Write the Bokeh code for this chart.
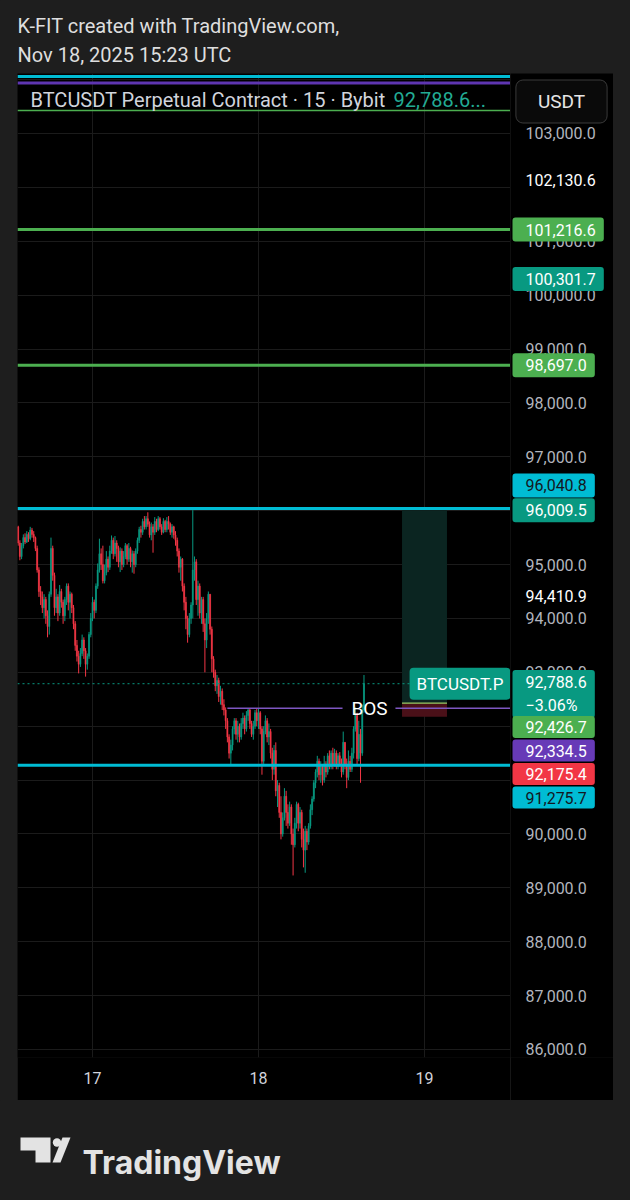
import datetime as dt
from bokeh.plotting import figure
from bokeh.models import (Range1d, FixedTicker, DatetimeTickFormatter,
                          Label, ColumnDataSource, Span, Spacer)
from bokeh.layouts import column, row
from bokeh.embed import file_html
from bokeh.resources import INLINE
from bokeh.core.properties import value

# ---------------- data (BTCUSDT.P, 15 min bars, Bybit) ----------------
first_bar_time = dt.datetime(2025, 11, 16, 13, 15)
bar_minutes = 15
first_open = 95700.0

closes = [
    95400, 95150, 95350, 95500, 95420, 95560, 95480, 95640, 95560, 95500,
    95300, 94900, 94500, 94400, 94200, 94350, 94050, 93850, 94450, 95300,
    94800, 94200, 94400, 94100, 94500, 94300, 94050, 94350, 94600, 94300,
    94450, 94200, 93900, 93500, 93300, 93150, 93350, 93600, 93400, 93150,
    93300, 93700, 94000, 94300, 94150, 94600, 94900, 95200, 95000, 94700,
    94850, 95100, 94950, 95250, 95450, 95200, 95400, 95300, 95050, 95250,
    95000, 95150, 95350, 95100, 95300, 95050, 95200, 95000, 95250, 95450,
    95650, 95600, 95800, 95700, 95850, 95750, 95550, 95700, 95600, 95800,
    95650, 95850, 95700, 95600, 95800, 95650, 95800, 95750, 95600, 95700,
    95550, 95450, 95250, 94950, 95100, 94600, 94300, 94000, 93700, 94000,
    94250, 94900, 95050, 94350, 94600, 94100, 94350, 93900, 93600, 94000,
    94450, 93800, 93250, 93000, 92750, 92850, 92550, 92650, 92400, 92300,
    92100, 91800, 91500, 91650, 91950, 92100, 91850, 92000, 91800, 92050,
    92150, 91950, 92200, 92300, 92050, 91850, 92000, 92250, 92100, 92250,
    91950, 91350, 91900, 92100, 91800, 91900, 91500, 91200, 91550, 90800,
    90900, 90400, 90000, 90300, 90700, 90400, 90200, 90500, 90000, 89800,
    90200, 90550, 90200, 90400, 89900, 89700, 90050, 89850, 90150, 90450,
    90650, 90950, 91150, 91350, 91100, 91250, 91000, 91300, 91150, 91450,
    91250, 91500, 91300, 91500, 91250, 91450, 91300, 91150, 91700, 91300,
    91050, 91350, 91200, 91500, 91950, 92200, 91400, 91850, 91500, 92300,
    92788.6,
]
highs = [
    95720, 95450, 95400, 95560, 95580, 95620, 95600, 95700, 95680, 95620,
    95520, 95350, 94950, 94600, 94500, 94450, 94400, 94150, 94500, 95500,
    95350, 94850, 94550, 94450, 94620, 94550, 94350, 94400, 94650, 94650,
    94500, 94480, 94250, 93950, 93600, 93400, 93450, 93700, 93650, 93450,
    93350, 93750, 94100, 94400, 94350, 94650, 95020, 95480, 95300, 95350,
    95000, 95250, 95150, 95350, 95540, 95500, 95530, 95450, 95350, 95320,
    95300, 95250, 95400, 95380, 95400, 95330, 95260, 95250, 95300, 95500,
    95700, 95720, 95850, 95900, 95900, 95970, 95800, 95780, 95750, 95880,
    95850, 95900, 95880, 95750, 95860, 95830, 95880, 95900, 95780, 95750,
    95720, 95620, 95500, 95300, 95150, 95120, 94650, 94400, 94050, 94100,
    94300, 96010, 95150, 95100, 94700, 94650, 94400, 94400, 94000, 94100,
    94500, 94450, 93850, 93300, 93050, 92950, 92900, 92750, 92700, 92500,
    92350, 92150, 91850, 91750, 92000, 92150, 92150, 92100, 92050, 92150,
    92250, 92200, 92280, 92335, 92330, 92100, 92100, 92300, 92330, 92320,
    92280, 92000, 92000, 92200, 92150, 92050, 91950, 91600, 91650, 91700,
    91000, 90950, 90700, 90400, 90850, 90800, 90550, 90600, 90550, 90100,
    90300, 90600, 90580, 90500, 90450, 90100, 90150, 90100, 90200, 90550,
    90700, 91000, 91200, 91450, 91400, 91350, 91300, 91450, 91350, 91500,
    91550, 91550, 91600, 91580, 91550, 91500, 91520, 91400, 91900, 91700,
    91400, 91550, 91450, 91600, 92000, 92350, 92250, 92100, 91950, 92400,
    92950,
]
lows = [
    95350, 95080, 95100, 95300, 95380, 95400, 95420, 95450, 95500, 95420,
    95250, 94850, 94400, 94250, 94100, 94000, 93900, 93650, 93700, 94400,
    94700, 94050, 94100, 93950, 94050, 94200, 93900, 93950, 94250, 94150,
    94000, 94100, 93800, 93400, 93200, 92980, 93100, 93300, 93250, 92920,
    93050, 93250, 93650, 93950, 94000, 94100, 94550, 94850, 94900, 94650,
    94650, 94800, 94860, 94900, 95200, 95100, 95150, 95050, 94950, 94860,
    94900, 94950, 95100, 95000, 95050, 94950, 94850, 94830, 94950, 95200,
    95400, 95500, 95550, 95650, 95650, 95700, 95500, 95450, 95220, 95550,
    95600, 95620, 95650, 95550, 95580, 95600, 95600, 95650, 95550, 95500,
    95480, 95350, 95150, 94850, 94700, 94500, 94150, 93800, 93550, 93650,
    93900, 94000, 94700, 94250, 94050, 94000, 93900, 93750, 93000, 93450,
    93900, 93700, 93000, 92900, 92650, 92600, 92450, 92400, 92300, 92200,
    91950, 91700, 91400, 91280, 91550, 91850, 91750, 91700, 91700, 91750,
    91950, 91850, 91900, 92100, 91950, 91800, 91750, 91950, 92000, 91950,
    91850, 91100, 91300, 91850, 91700, 91650, 91400, 91000, 91100, 90700,
    90500, 90300, 89900, 89950, 90250, 90150, 90100, 90150, 89800, 89230,
    89750, 90100, 90050, 90100, 89750, 89380, 89280, 89700, 89800, 90100,
    90350, 90600, 90850, 91050, 91000, 90950, 90900, 90950, 91050, 91100,
    91200, 91200, 91200, 91250, 91200, 91200, 91250, 91050, 91100, 91200,
    90850, 91000, 91150, 91150, 91400, 91900, 91300, 91350, 90950, 91450,
    92250,
]

last_price = 92788.6
change_text = "\u22123.06%"
green_levels = [101216.6, 98697.0]
cyan_levels = [96040.8, 91275.7]
top_cyan, top_purple, top_green = 104058.0, 103937.0, 103427.0
bos_price = 92334.5
bos_start = dt.datetime(2025, 11, 17, 19, 30)
bos_text_time = dt.datetime(2025, 11, 18, 16, 3)
bos_gap = (dt.datetime(2025, 11, 18, 12, 9), dt.datetime(2025, 11, 18, 19, 48))
pos_entry, pos_target, pos_stop = 92426.7, 96009.5, 92175.4
pos_start, pos_end = dt.datetime(2025, 11, 18, 20, 45), dt.datetime(2025, 11, 19, 3, 15)
plain_tags = [102130.6, 94410.9]
teal_tags = [100301.7, 96009.5]
day_ticks = [dt.datetime(2025, 11, 17), dt.datetime(2025, 11, 18), dt.datetime(2025, 11, 19)]
price_grid = list(range(86000, 104001, 1000))
price_labels = [86000, 87000, 88000, 89000, 90000, 93000, 94000, 95000,
                97000, 98000, 99000, 100000, 101000, 103000]

# ---------------- styling ----------------
BG = "#1e1e1e"
PANE = "#000000"
UP, DOWN = "#089981", "#f23645"
CYAN, GREEN, PURPLE, RED, TEAL = "#00bcd4", "#4caf50", "#673ab7", "#f23645", "#089981"
LINE_PURPLE = "#7e57c2"
AX_TEXT = "#b2b5be"
FONT = "Roboto"
GRID = "#1b1b1b"


def ms(d):
    return (d - dt.datetime(1970, 1, 1)).total_seconds() * 1000.0


bar_ms = bar_minutes * 60 * 1000
t0 = ms(first_bar_time)
times = [t0 + i * bar_ms for i in range(len(closes))]
opens = [first_open] + closes[:-1]
hi = [max(h, o, c) for h, o, c in zip(highs, opens, closes)]
lo = [min(l, o, c) for l, o, c in zip(lows, opens, closes)]
colors = [UP if c >= o else DOWN for o, c in zip(opens, closes)]
src = ColumnDataSource(dict(t=times, o=opens, c=closes, h=hi, l=lo,
                            top=[max(o, c) for o, c in zip(opens, closes)],
                            bot=[min(o, c) for o, c in zip(opens, closes)],
                            color=colors))

# ---------------- geometry ----------------
PAGE_W = 630
HDR_H, MAIN_H, FTR_H = 73, 1027, 100
LEFT_PAD = 17
FRAME_W = 493
SCALE_W = 103
AX_B = 43
x_start = ms(dt.datetime(2025, 11, 16, 13, 9, 24))
x_end = ms(dt.datetime(2025, 11, 19, 12, 26, 0))
y_range = Range1d(85851.5, 104113.5)
frame_h = MAIN_H - AX_B
upp = (y_range.end - y_range.start) / frame_h


def spx(v):
    return (v - y_range.start) / upp


def pad(l, r, t, b):
    return dict(left=l, right=r, top=t, bottom=b)


# ---------------- main chart ----------------
p = figure(width=FRAME_W, height=MAIN_H, x_axis_type="datetime",
           x_range=Range1d(x_start, x_end), y_range=y_range,
           y_axis_location=None, output_backend="svg", toolbar_location=None,
           background_fill_color=PANE, border_fill_color=PANE,
           outline_line_color=None, min_border_left=0, min_border_top=0,
           min_border_right=0, min_border_bottom=AX_B)

for g in p.ygrid:
    g.ticker = FixedTicker(ticks=price_grid)
for g in p.xgrid:
    g.ticker = FixedTicker(ticks=[ms(d) for d in day_ticks])
p.grid.grid_line_color = GRID
p.grid.grid_line_width = 1

xa = p.xaxis[0]
xa.ticker = FixedTicker(ticks=[ms(d) for d in day_ticks])
fmt = "%d"
xa.formatter = DatetimeTickFormatter(microseconds=fmt, milliseconds=fmt, seconds=fmt, minsec=fmt,
                                     minutes=fmt, hourmin=fmt, hours=fmt, days=fmt,
                                     months=fmt, years=fmt)
xa.axis_line_color = None
xa.major_tick_line_color = None
xa.minor_tick_line_color = None
xa.major_tick_out = 0
xa.major_tick_in = 0
xa.major_label_standoff = 14
xa.major_label_text_font = FONT
xa.major_label_text_font_size = "16px"
xa.major_label_text_color = "#d1d4dc"

# position tool (long)
p.quad(left=[ms(pos_start)], right=[ms(pos_end)], bottom=[pos_entry], top=[pos_target],
       fill_color="#0b2521", line_color=None)
p.quad(left=[ms(pos_start)], right=[ms(pos_end)], bottom=[pos_stop], top=[pos_entry],
       fill_color="#4a1018", line_color=None)

# candles
p.segment(x0="t", y0="l", x1="t", y1="h", line_color="color", line_width=1, source=src)
p.vbar(x="t", width=bar_ms * 0.6, top="top", bottom="bot", fill_color="color",
       line_color="color", line_width=0.6, source=src)

# horizontal levels
for lv in green_levels:
    p.add_layout(Span(location=lv, dimension="width", line_color=GREEN, line_width=3))
for lv in cyan_levels:
    p.add_layout(Span(location=lv, dimension="width", line_color=CYAN, line_width=3))
p.add_layout(Span(location=top_cyan, dimension="width", line_color=CYAN, line_width=3))
p.add_layout(Span(location=top_purple, dimension="width", line_color="#5e35b1", line_width=3))
p.add_layout(Span(location=top_green, dimension="width", line_color=GREEN, line_width=1.5))
p.add_layout(Span(location=last_price, dimension="width", line_color=TEAL, line_width=1,
                  line_dash="2 3"))

# BOS line + label
p.segment(x0=[ms(bos_start), ms(bos_gap[1])], x1=[ms(bos_gap[0]), x_end],
          y0=[bos_price, bos_price], y1=[bos_price, bos_price],
          line_color=LINE_PURPLE, line_width=1.5)
p.add_layout(Label(x=ms(bos_text_time), y=bos_price, text="BOS", text_align="center",
                   text_baseline="middle", text_color="#ffffff", text_font=FONT,
                   text_font_size="19px"))
# entry line of the position tool
p.segment(x0=[ms(pos_start)], x1=[ms(pos_end)], y0=[pos_entry], y1=[pos_entry],
          line_color="#9ccc65", line_width=1.2)

# symbol label on last price
p.add_layout(Label(x=FRAME_W, y=spx(last_price), x_units="screen", y_units="screen",
                   text="BTCUSDT.P", text_align="right", text_baseline="middle",
                   text_color="#ffffff", text_font=FONT, text_font_size="17px",
                   background_fill_color=TEAL, padding=pad(7, 7, 6, 6), border_radius=4))

# legend on pane
p.add_layout(Label(x=13, y=frame_h - 26, x_units="screen", y_units="screen",
                   text="BTCUSDT Perpetual Contract \u00b7 15 \u00b7 Bybit", text_align="left",
                   text_baseline="middle", text_color="#d1d4dc", text_font=FONT,
                   text_font_size="20px"))
p.add_layout(Label(x=376, y=frame_h - 26, x_units="screen", y_units="screen",
                   text=f"{last_price:,.1f}...", text_align="left",
                   text_baseline="middle", text_color="#22ab94", text_font=FONT,
                   text_font_size="20px"))

# ---------------- price scale (shares the y range) ----------------
ps = figure(width=SCALE_W, height=MAIN_H, x_range=Range1d(0, SCALE_W), y_range=y_range,
            x_axis_location=None, y_axis_location=None, output_backend="svg",
            toolbar_location=None, background_fill_color=PANE, border_fill_color=PANE,
            outline_line_color=None, min_border_left=0, min_border_top=0,
            min_border_right=0, min_border_bottom=AX_B)
ps.grid.visible = False
ps.text(x=[15] * len(price_labels), y=price_labels,
        text=[f"{v:,.1f}" for v in price_labels], text_align="left", text_baseline="middle",
        text_color=AX_TEXT, text_font=value(FONT), text_font_size="16px")

# currency box
ps.add_layout(Label(x=51, y=frame_h - 28, x_units="screen", y_units="screen",
                    text="USDT", text_align="center", text_baseline="middle",
                    text_color="#e6e6e6", text_font=FONT, text_font_size="19px",
                    background_fill_color="#0a0a0a", border_line_color="#3a3a3a",
                    padding=pad(22, 22, 10, 10), border_radius=7))

TAG_X = 2


def tag(v, bg, fg="#ffffff", dy=0.0, text=None, vpad=6):
    kw = dict(x=TAG_X, y=spx(v) + dy, x_units="screen", y_units="screen",
              text=text if text is not None else f"{v:,.1f}", text_align="left",
              text_baseline="middle", text_color=fg, text_font=FONT,
              text_font_size="16px", padding=pad(13, 8, vpad, vpad))
    if bg is not None:
        kw.update(background_fill_color=bg, border_radius=3)
    ps.add_layout(Label(**kw))


for v in plain_tags:
    tag(v, None)
tag(green_levels[0], GREEN)
tag(teal_tags[0], TEAL)
tag(green_levels[1], GREEN)
tag(cyan_levels[0], CYAN, fg="#131722", dy=23)
tag(teal_tags[1], TEAL)
tag(last_price, TEAL, dy=-10.3, text=f"{last_price:,.1f}\n{change_text}", vpad=3)
stack = [(pos_entry, GREEN, "#ffffff"), (bos_price, PURPLE, "#ffffff"),
         (pos_stop, RED, "#ffffff"), (cyan_levels[1], CYAN, "#131722")]
base = spx(last_price) - 43.3
for k, (v, bg, fg) in enumerate(stack):
    y_here = base - 23.5 * k
    tag(v, bg, fg=fg, dy=y_here - spx(v), vpad=5)

# ---------------- header ----------------
hdr = figure(width=PAGE_W, height=HDR_H, x_range=Range1d(0, PAGE_W), y_range=Range1d(HDR_H, 0),
             output_backend="svg", toolbar_location=None, min_border=0,
             x_axis_location=None, y_axis_location=None,
             background_fill_color=BG, border_fill_color=BG, outline_line_color=None)
hdr.grid.visible = False
hdr.add_layout(Label(x=17, y=25, text="K-FIT created with TradingView.com,",
                     text_baseline="middle", text_color="#dedede", text_font=FONT,
                     text_font_size="20px"))
hdr.add_layout(Label(x=17, y=54, text="Nov 18, 2025 15:23 UTC",
                     text_baseline="middle", text_color="#dedede", text_font=FONT,
                     text_font_size="20px"))

# ---------------- footer ----------------
ftr = figure(width=PAGE_W, height=FTR_H, x_range=Range1d(0, PAGE_W), y_range=Range1d(FTR_H, 0),
             output_backend="svg", toolbar_location=None, min_border=0,
             x_axis_location=None, y_axis_location=None,
             background_fill_color=BG, border_fill_color=BG, outline_line_color=None)
ftr.grid.visible = False
LOGO = "#e3e3e3"
ftr.patch(x=[20, 50, 50, 35, 35, 20], y=[37, 37, 62, 62, 50, 50], fill_color=LOGO, line_color=None)
ftr.circle(x=[56.5], y=[42], radius=4.2, fill_color=LOGO, line_color=None)
ftr.patch(x=[62, 70, 60, 52], y=[37, 37, 62, 62], fill_color=LOGO, line_color=None)
ftr.add_layout(Label(x=82, y=62, text="TradingView", text_baseline="alphabetic",
                     text_color=LOGO, text_font="Inter", text_font_style="bold",
                     text_font_size="32px"))

layout = column(hdr,
                row(Spacer(width=LEFT_PAD, height=MAIN_H), p, ps,
                    Spacer(width=PAGE_W - LEFT_PAD - FRAME_W - SCALE_W, height=MAIN_H)),
                ftr)

html = file_html(layout, INLINE)
html = html.replace("<head>", "<head><style>html,body{background:#1e1e1e;margin:0;padding:0;}</style>", 1)
open("out.html", "w").write(html)
